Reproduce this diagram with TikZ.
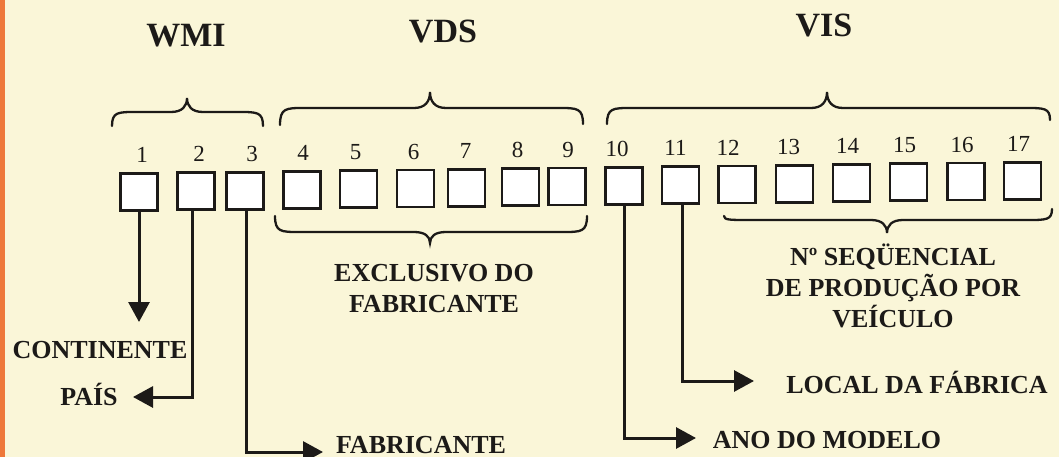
\documentclass[tikz,border=0pt]{standalone}
\usepackage{fontspec}
\setmainfont{Liberation Serif}
\usetikzlibrary{arrows.meta,calc}
\definecolor{paper}{RGB}{250,246,216}
\definecolor{edgeorange}{RGB}{238,120,58}
\definecolor{ink}{RGB}{28,26,24}
\newcommand\mybrace[7]{% x1 y1 x2 y2 xtip yline ytip
  \draw[brc] (#1,#2) .. controls (#1,#6) and (#1+6,#6) .. (#1+24,#6)
    -- (#5-16,#6) .. controls (#5-5,#6) and (#5,{#6+0.4*(#7-#6)}) .. (#5,#7)
    .. controls (#5,{#6+0.4*(#7-#6)}) and (#5+5,#6) .. (#5+16,#6)
    -- (#3-24,#6) .. controls (#3-6,#6) and (#3,#6) .. (#3,#4);}
\begin{document}
\begin{tikzpicture}[x=1pt,y=-1pt,
  cell/.style={draw=ink, line width=2.8pt, fill=white, minimum size=37pt, inner sep=0pt},
  num/.style={anchor=base, font=\fontsize{23}{23}\selectfont, text=ink, inner sep=0pt},
  title/.style={anchor=base, font=\fontsize{34}{34}\selectfont\bfseries, text=ink, inner sep=0pt},
  lbl/.style={anchor=base, font=\fontsize{26}{31}\selectfont\bfseries, text=ink, inner sep=0pt, align=center},
  arr/.style={draw=ink, line width=3pt, -{Triangle[length=20pt,width=21pt]}},
  brc/.style={draw=ink, line width=2.3pt, line cap=round}]
\fill[paper] (0,0) rectangle (1059,457);
\fill[edgeorange] (0,0) rectangle (5,457);
\useasboundingbox (0,0) rectangle (1059,457);

% titles
\node[title] (wmi) at (186,47) {WMI};
\node[title] (vds) at (443,43) {VDS};
\node[title] (vis) at (824,37) {VIS};

% cells and numbers
\foreach \i/\x/\dx in {1/139/3, 2/196/3, 3/245/7, 4/302/1, 5/358.5/-3, 6/415.5/-2,
  7/466.5/-1, 8/520.5/-3, 9/567/1, 10/624/-7, 11/680.5/-5, 12/737/-9, 13/794.5/-6,
  14/851.5/-4, 15/908.5/-4, 16/966/-4, 17/1022.5/-4}{
  \pgfmathsetmacro\yy{192-(\x-139)*0.0127}
  \node[cell] (b\i) at (\x,\yy) {};
  \node[num] (n\i) at ([xshift=\dx pt, yshift=9.5pt]b\i.north) {\i};
}

% braces
\mybrace{112}{126}{263}{126}{187}{112}{98}
\mybrace{280}{125}{583}{124}{430}{108}{92}
\mybrace{607}{124}{1050}{120}{827}{108}{92}
\mybrace{275}{216}{587}{216}{430}{232}{243}
\mybrace{724}{216}{1052}{209}{887}{220}{233}

% labels (anchor base = baseline of the last line)
\node[lbl] (cont) at (100,358) {CONTINENTE};
\node[lbl] (pais) at (89,405) {PAÍS};
\node[lbl] (fab) at (421,453) {FABRICANTE};
\node[lbl] (excl) at (434,312) {EXCLUSIVO DO\\FABRICANTE};
\node[lbl] (seq) at (893,327) {Nº SEQÜENCIAL\\DE PRODUÇÃO POR\\VEÍCULO};
\node[lbl] (local) at (917,393) {LOCAL DA FÁBRICA};
\node[lbl] (ano) at (827,448) {ANO DO MODELO};

% arrow ends
\coordinate (t1) at (139,322);
\coordinate (t2) at (133,397);
\coordinate (t3) at (323,452);
\coordinate (t10) at (696,438);
\coordinate (t11) at (754,381);

\draw[arr] (b1.south) -- (t1);
\draw[arr] ([xshift=-4pt]b2.south) |- (t2);
\draw[arr] ([xshift=1pt]b3.south) |- (t3);
\draw[arr] (b10.south) |- (t10);
\draw[arr] ([xshift=2pt]b11.south) |- (t11);
\end{tikzpicture}
\end{document}
